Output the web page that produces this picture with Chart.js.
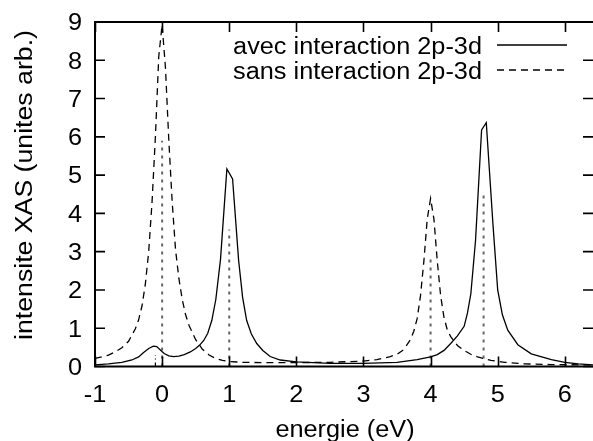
<!DOCTYPE html>
<html>
<head>
<meta charset="utf-8">
<script src="https://cdn.jsdelivr.net/npm/chart.js@4"></script>
<style>
  body { margin: 0; background: #fff; }
  canvas { display: block; }
</style>
</head>
<body>
<canvas id="xasChart" width="593" height="441"></canvas>
<script>
// spectre avec interaction 2p-3d (trait plein)
const avecX = [-1.0, -0.8, -0.6, -0.45, -0.35, -0.28, -0.2, -0.13, -0.08, -0.03, 0.03, 0.1, 0.17, 0.25, 0.33,
  0.42, 0.5, 0.56, 0.62, 0.68, 0.74, 0.8, 0.87, 0.965, 1.05, 1.14, 1.2, 1.26, 1.33, 1.41, 1.5, 1.61, 1.76,
  2.0, 2.5, 3.0, 3.5, 3.8, 4.0, 4.1, 4.2, 4.3, 4.4, 4.5, 4.55, 4.6, 4.67, 4.76, 4.83, 4.93, 5.0, 5.07, 5.15,
  5.3, 5.5, 5.8, 6.0, 6.2, 6.42];
const avecY = [0.04, 0.07, 0.11, 0.17, 0.25, 0.36, 0.47, 0.53, 0.52, 0.44, 0.34, 0.28, 0.26, 0.27, 0.31,
  0.38, 0.47, 0.56, 0.68, 0.87, 1.2, 1.75, 2.8, 5.16, 4.9, 2.77, 1.8, 1.2, 0.85, 0.6, 0.42, 0.26, 0.17,
  0.12, 0.08, 0.08, 0.11, 0.18, 0.25, 0.31, 0.42, 0.6, 0.8, 1.05, 1.4, 1.9, 3.3, 6.18, 6.37, 3.7, 2.0, 1.35, 0.95,
  0.57, 0.33, 0.18, 0.11, 0.07, 0.04];

// spectre sans interaction 2p-3d (tirets)
const sansX = [-1.0, -0.9, -0.8, -0.7, -0.6, -0.5, -0.4, -0.35, -0.3, -0.25, -0.2, -0.15, -0.1, -0.05, 0.0,
  0.05, 0.1, 0.15, 0.2, 0.25, 0.3, 0.35, 0.4, 0.5, 0.6, 0.7, 0.8, 0.9, 1.0, 1.2, 1.5, 2.0, 2.5, 3.0, 3.2,
  3.4, 3.5, 3.6, 3.7, 3.75, 3.8, 3.85, 3.9, 3.95, 4.0, 4.05, 4.1, 4.15, 4.2, 4.25, 4.3, 4.4, 4.5, 4.6, 4.7,
  4.9, 5.1, 5.4, 5.8, 6.42];
const sansY = [0.21, 0.25, 0.30, 0.38, 0.49, 0.66, 0.98, 1.22, 1.58, 2.15, 3.0, 4.3, 6.0, 8.1, 8.93,
  7.8, 5.9, 4.3, 3.05, 2.3, 1.75, 1.35, 1.08, 0.7, 0.45, 0.3, 0.21, 0.16, 0.13, 0.11, 0.10, 0.10, 0.11, 0.14, 0.18,
  0.26, 0.32, 0.44, 0.7, 0.92, 1.25, 1.85, 2.75, 3.85, 4.39, 3.85, 2.75, 1.85, 1.28, 0.95, 0.78, 0.55, 0.42, 0.32, 0.25,
  0.16, 0.11, 0.07, 0.05, 0.04];

// raies (batons)
const rayX = [0.0, 1.0, 4.0, 4.79];
const rayY = [5.9, 3.58, 2.9, 4.5];
const petiteRayX = [-0.1];
const petiteRayY = [0.3];

const xTicks = [-1, 0, 1, 2, 3, 4, 5, 6];
const yTicks = [0, 1, 2, 3, 4, 5, 6, 7, 8, 9];
const seriesLabels = ["avec interaction 2p-3d", "sans interaction 2p-3d"];

const FONT = '23px "Liberation Sans", Arial, sans-serif';
const SX = 1.1; // police un peu elargie comme sur l'original

function toPoints(xs, ys) {
  return xs.map((x, i) => ({ x: x, y: ys[i] }));
}
function toSticks(xs, ys) {
  const pts = [];
  xs.forEach((x, i) => {
    pts.push({ x: x, y: 0 }, { x: x, y: ys[i] }, { x: x, y: null });
  });
  return pts;
}

function wideText(ctx, str, x, y, align, angle, sx) {
  ctx.save();
  ctx.translate(x, y);
  if (angle) ctx.rotate(angle);
  ctx.scale(sx || SX, 1);
  ctx.textAlign = align;
  ctx.textBaseline = "alphabetic";
  ctx.fillText(str, 0, 0);
  ctx.restore();
}

// cadre, graduations, textes et legende facon gnuplot
const gnuplotFrame = {
  id: "gnuplotFrame",
  afterDraw(chart) {
    const ctx = chart.ctx;
    const a = chart.chartArea;
    const xs = chart.scales.x, ys = chart.scales.y;
    ctx.save();
    ctx.strokeStyle = "#000";
    ctx.fillStyle = "#000";
    ctx.setLineDash([]);
    ctx.lineWidth = 2;
    ctx.beginPath();
    ctx.moveTo(a.left, a.top); ctx.lineTo(a.right + 2, a.top);
    ctx.moveTo(a.left, a.top - 1); ctx.lineTo(a.left, a.bottom + 1);
    ctx.moveTo(a.left, a.bottom); ctx.lineTo(a.right + 2, a.bottom);
    ctx.stroke();

    ctx.lineWidth = 1.6;
    ctx.beginPath();
    xTicks.forEach(v => {
      const px = Math.round(xs.getPixelForValue(v)) + 0.5;
      ctx.moveTo(px, a.bottom); ctx.lineTo(px, a.bottom - 10);
      ctx.moveTo(px, a.top); ctx.lineTo(px, a.top + 10);
    });
    yTicks.forEach(v => {
      const py = ys.getPixelForValue(v);
      ctx.moveTo(a.left, py); ctx.lineTo(a.left + 10, py);
      ctx.moveTo(a.right, py); ctx.lineTo(a.right - 10, py);
    });
    ctx.stroke();

    ctx.font = FONT;
    xTicks.forEach(v => {
      wideText(ctx, String(v), xs.getPixelForValue(v), 402, "center");
    });
    yTicks.forEach(v => {
      wideText(ctx, String(v), 82, ys.getPixelForValue(v) + 8.3, "right");
    });
    wideText(ctx, "energie (eV)", (a.left + 593) / 2 + 1, 437, "center");
    wideText(ctx, "intensite XAS (unites arb.)", 32, 185, "center", -Math.PI / 2, 1.16);

    // legende
    const rows = [45, 70];
    const dashes = [[], [7, 5]];
    rows.forEach((ry, i) => {
      wideText(ctx, seriesLabels[i], 482, ry + 8.5, "right");
      ctx.save();
      ctx.lineWidth = 1.3;
      ctx.setLineDash(dashes[i]);
      ctx.beginPath();
      ctx.moveTo(497, ry); ctx.lineTo(567, ry);
      ctx.stroke();
      ctx.restore();
    });
    ctx.restore();
  }
};

new Chart(document.getElementById("xasChart"), {
  type: "scatter",
  data: {
    datasets: [
      {
        label: seriesLabels[0],
        data: toPoints(avecX, avecY),
        showLine: true,
        borderColor: "#000",
        borderWidth: 1.3,
        pointRadius: 0,
        tension: 0
      },
      {
        label: seriesLabels[1],
        data: toPoints(sansX, sansY),
        showLine: true,
        borderColor: "#000",
        borderWidth: 1.3,
        borderDash: [7, 5],
        pointRadius: 0,
        tension: 0
      },
      {
        label: "raies",
        data: toSticks(rayX, rayY),
        showLine: true,
        spanGaps: false,
        borderColor: "#666",
        borderWidth: 2,
        borderDash: [3, 5],
        pointRadius: 0
      },
      {
        label: "petite raie",
        data: toSticks(petiteRayX, petiteRayY),
        showLine: true,
        spanGaps: false,
        borderColor: "#000",
        borderWidth: 1.2,
        borderDash: [4, 3, 1, 3],
        pointRadius: 0
      }
    ]
  },
  options: {
    responsive: false,
    animation: false,
    layout: { padding: { top: 22, left: 0, right: 0, bottom: 0 } },
    plugins: {
      legend: { display: false },
      tooltip: { enabled: false }
    },
    scales: {
      x: {
        type: "linear",
        min: -1,
        max: 6.42,
        ticks: { display: false, stepSize: 1 },
        grid: { display: false },
        border: { display: false },
        afterFit(scale) { scale.height = 74.5; }
      },
      y: {
        min: 0,
        max: 9,
        ticks: { display: false, stepSize: 1 },
        grid: { display: false },
        border: { display: false },
        afterFit(scale) { scale.width = 95; }
      }
    }
  },
  plugins: [gnuplotFrame]
});
</script>
</body>
</html>
